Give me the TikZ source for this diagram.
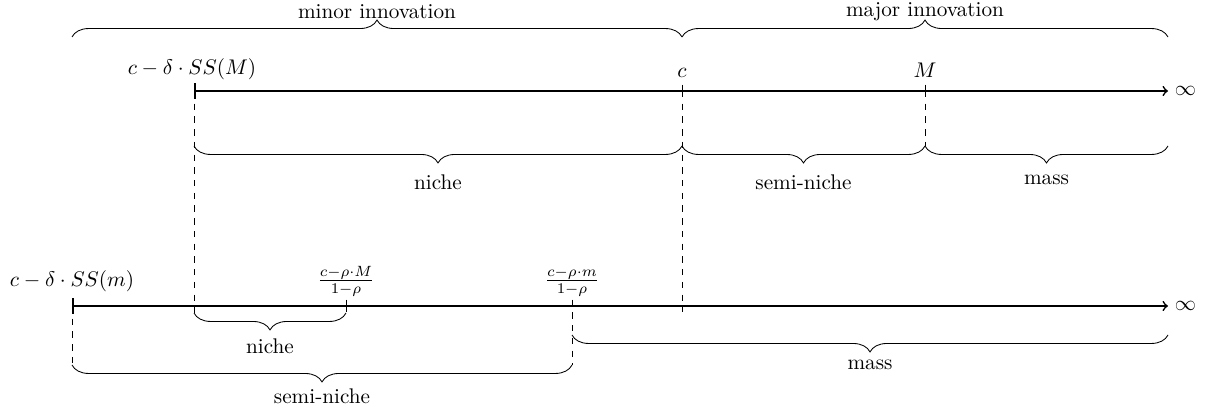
\documentclass[tikz,border=0pt]{standalone}
\usetikzlibrary{decorations.pathreplacing}
\begin{document}
\begin{tikzpicture}[x=0.4717pt,y=-0.4717pt,
  axis/.style={thick,|->},
  tick/.style={thin},
  guide/.style={dashed},
  overbrace/.style={decorate,decoration={brace,amplitude=8pt}},
  underbrace/.style={decorate,decoration={brace,mirror,amplitude=8pt}},
  bracelbl/.style={anchor=north,inner sep=2pt}]
\useasboundingbox (0,0) rectangle (1205,409);

% ---------- upper axis ----------
\coordinate (uS) at (194,91);
\coordinate (uC) at (682,91);
\coordinate (uM) at (925,91);
\coordinate (uE) at (1168,91);
\draw[axis] (uS) -- (uE);
\node[anchor=west,inner sep=3pt] (uInf) at (uE) {$\infty$};
\draw[tick] ([yshift=3pt]uC) -- ([yshift=-3pt]uC);
\draw[tick] ([yshift=3pt]uM) -- ([yshift=-3pt]uM);

\node[anchor=base] (lSSM) at (192,75) {$c-\delta\cdot SS(M)$};
\node[anchor=base] (lc) at (682,78) {$c$};
\node[anchor=base] (lM) at (925,78) {$M$};

% ---------- lower axis ----------
\coordinate (dS) at (72,306);
\coordinate (dA) at (346,306);
\coordinate (dB) at (572,306);
\coordinate (dE) at (1168,306);
\draw[axis] (dS) -- (dE);
\node[anchor=west,inner sep=3pt] (dInf) at (dE) {$\infty$};
\draw[tick] ([yshift=3pt]dA) -- ([yshift=-3pt]dA);

\node[anchor=base] (lSSm) at (72,287) {$c-\delta\cdot SS(m)$};
\node[inner sep=0pt] (lfA) at (346,281.5) {$\frac{c-\rho\cdot M}{1-\rho}$};
\node[inner sep=0pt] (lfB) at (572,281.5) {$\frac{c-\rho\cdot m}{1-\rho}$};

% ---------- brace end points ----------
\coordinate (tL) at (72,37);
\coordinate (tC) at (682,37);
\coordinate (tR) at (1168,37);

\coordinate (bS) at (194,146);
\coordinate (bC) at (682,146);
\coordinate (bM) at (925,146);
\coordinate (bE) at (1168,146);

\coordinate (nS) at (194,313);
\coordinate (nA) at (346,313);
\coordinate (mB) at (572,335);
\coordinate (mE) at (1168,335);
\coordinate (sS) at (72,365);
\coordinate (sB) at (572,365);

% ---------- dashed guides ----------
\draw[guide] (uS) -- (nS);
\draw[guide] (uC) -- (682,312);
\draw[guide] (uM) -- (bM);
\draw[guide] (dS) -- (sS);
\draw[guide] ([yshift=3pt]dB) -- (sB);

% ---------- braces ----------
\draw[overbrace] (tL) -- (tC);
\draw[overbrace] (tC) -- (tR);
\node[anchor=base] (lMinor) at (377,19) {minor innovation};
\node[anchor=base] (lMajor) at (925,17) {major innovation};

\draw[underbrace] (bS) -- (bC);
\draw[underbrace] (bC) -- (bM);
\draw[underbrace] (bM) -- (bE);
\node[bracelbl] (lNicheU) at (438,170) {niche};
\node[bracelbl] (lSemiU) at (803.5,170) {semi-niche};
\node[bracelbl] (lMassU) at (1046.5,170) {mass};

\draw[underbrace] (nS) -- (nA);
\draw[underbrace] (mB) -- (mE);
\draw[underbrace] (sS) -- (sB);
\node[bracelbl] (lNicheD) at (270,334) {niche};
\node[bracelbl] (lMassD) at (870,355) {mass};
\node[bracelbl] (lSemiD) at (322,384) {semi-niche};
\end{tikzpicture}
\end{document}
